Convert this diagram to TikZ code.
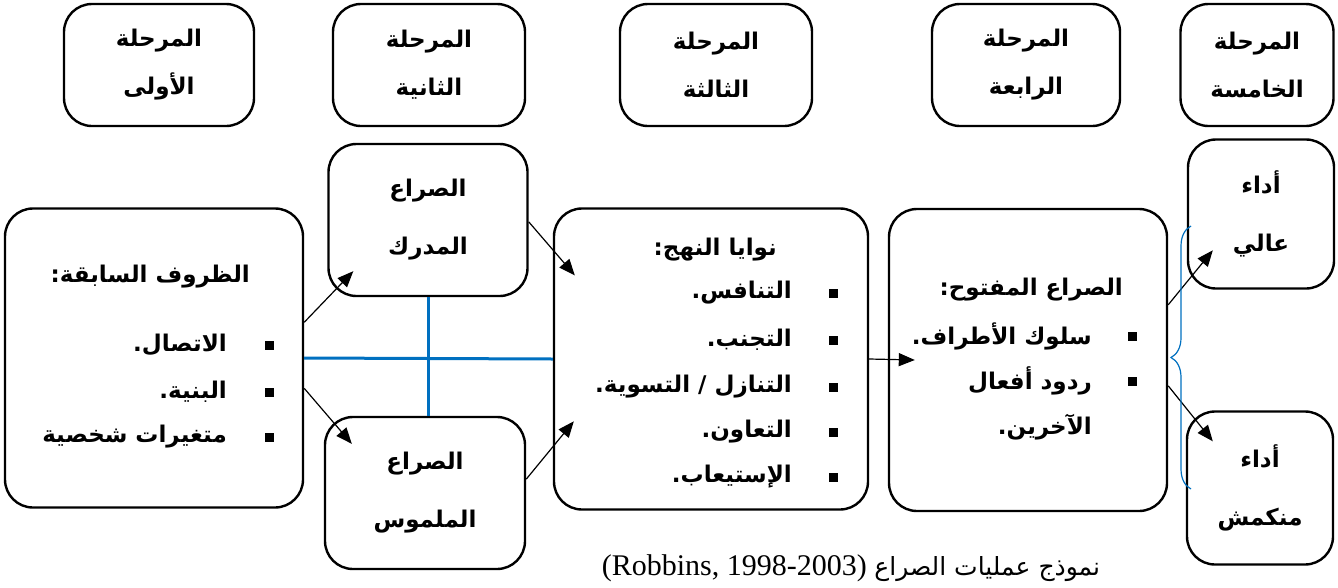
\documentclass[tikz,border=0pt]{standalone}
\usepackage{fontspec}
\setmainfont{Liberation Serif}
\newfontfamily\arabicfont[Script=Arabic]{DejaVu Sans}
\TeXXeTstate=1
\usepackage{tikz}
\usetikzlibrary{positioning, calc, arrows.meta, decorations.pathreplacing}
\definecolor{linkblue}{RGB}{0, 112, 192}
\newcommand{\artxt}[1]{\beginR #1\endR}

\begin{document}
\begin{tikzpicture}[x=1pt, y=-1pt,
    box/.style={draw, line width=2.4pt, rounded corners=28pt, inner sep=0pt, align=center},
    stagebox/.style={box, minimum height=122pt, font=\arabicfont\bfseries\fontsize{23}{48}\selectfont},
    smallbox/.style={box, font=\arabicfont\bfseries\fontsize{23}{58}\selectfont},
    txt/.style={anchor=east, inner sep=0pt, font=\arabicfont\bfseries\fontsize{23}{30}\selectfont},
    bul/.style={fill, minimum size=9pt, inner sep=0pt},
    arr/.style={-{Triangle[length=16pt,width=13pt]}, line width=1.2pt},
    link/.style={linkblue, line width=3pt}]
    \useasboundingbox (0,0) rectangle (1338,587);

    % المراحل
    \node[stagebox, minimum width=190pt] (s1) at (159,65) {\artxt{المرحلة}\\\artxt{الأولى}};
    \node[stagebox, minimum width=192pt] (s2) at (429,65) {\artxt{المرحلة}\\\artxt{الثانية}};
    \node[stagebox, minimum width=192pt] (s3) at (716,65) {\artxt{المرحلة}\\\artxt{الثالثة}};
    \node[stagebox, minimum width=188pt] (s4) at (1026,65) {\artxt{المرحلة}\\\artxt{الرابعة}};
    \node[stagebox, minimum width=153pt] (s5) at (1257,65) {\artxt{المرحلة}\\\artxt{الخامسة}};

    % الصناديق
    \node[box, minimum width=298pt, minimum height=299pt] (ante) at (154,358) {};
    \node[smallbox, minimum width=199pt, minimum height=152pt] (perc) at (428,220) {\artxt{الصراع}\\\artxt{المدرك}};
    \node[smallbox, minimum width=200pt, minimum height=152pt] (felt) at (425,493) {\artxt{الصراع}\\\artxt{الملموس}};
    \node[box, minimum width=314pt, minimum height=301pt] (intent) at (711,359) {};
    \node[box, minimum width=278pt, minimum height=302pt] (open) at (1028,360) {};
    \node[smallbox, minimum width=146pt, minimum height=149pt] (high) at (1261,214) {\artxt{أداء}\\\artxt{عالي}};
    \node[smallbox, minimum width=146pt, minimum height=153pt] (wdr) at (1260,488) {\artxt{أداء}\\\artxt{منكمش}};

    % الظروف السابقة
    \node[txt] (ante-t) at (250,277) {\artxt{الظروف السابقة:}};
    \node[txt] (ante-1) at (227,345) {\artxt{الاتصال.}};
    \node[txt] (ante-2) at (227,392) {\artxt{البنية.}};
    \node[txt] (ante-3) at (227,437) {\artxt{متغيرات شخصية}};
    \node[bul] (ante-b1) at (269,345) {};
    \node[bul] (ante-b2) at (269,392) {};
    \node[bul] (ante-b3) at (269,437) {};

    % نوايا النهج
    \node[txt] (int-t) at (777,250) {\artxt{نوايا النهج:}};
    \node[txt] (int-1) at (792,293) {\artxt{التنافس.}};
    \node[txt] (int-2) at (792,340) {\artxt{التجنب.}};
    \node[txt] (int-3) at (792,387) {\artxt{التنازل / التسوية.}};
    \node[txt] (int-4) at (792,432) {\artxt{التعاون.}};
    \node[txt] (int-5) at (792,477) {\artxt{الإستيعاب.}};
    \node[bul] (int-b1) at (833,293) {};
    \node[bul] (int-b2) at (833,340) {};
    \node[bul] (int-b3) at (833,387) {};
    \node[bul] (int-b4) at (833,432) {};
    \node[bul] (int-b5) at (833,477) {};

    % الصراع المفتوح
    \node[txt] (open-t) at (1123,290) {\artxt{الصراع المفتوح:}};
    \node[txt] (open-1) at (1092,336) {\artxt{سلوك الأطراف.}};
    \node[txt] (open-2) at (1092,381) {\artxt{ردود أفعال}};
    \node[txt] (open-3) at (1092,427) {\artxt{الآخرين.}};
    \node[bul] (open-b1) at (1132,336) {};
    \node[bul] (open-b2) at (1132,381) {};

    % الروابط
    \draw[link] (ante.east) -- (intent.west);
    \draw[link] (perc.south) -- (perc.south |- felt.north);
    \draw[arr] ($(ante.north east)+(0,115)$) -- ($(perc.south west)+(26,-26)$);
    \draw[arr] ($(ante.north east)+(0,181)$) -- ($(felt.north west)+(28,28)$);
    \draw[arr] ($(perc.north east)+(0,79)$) -- ($(intent.north west)+(22,68)$);
    \draw[arr] ($(felt.south east)+(0,-91)$) -- ($(intent.north west)+(21,214)$);
    \draw[arr] (intent.east) -- ($(open.west)+(27,0)$);
    \draw[arr] ($(open.north east)+(0,97)$) -- ($(high.north west)+(26,112)$);
    \draw[arr] ($(open.north east)+(0,178)$) -- ($(wdr.north west)+(27,31)$);
    \draw[linkblue, line width=1.2pt, decorate, decoration={brace, amplitude=20pt}] (1191,489) -- (1191,226);

    \node[font=\fontsize{30}{36}\selectfont] (cap) at (851,568)
        {\hbox{(Robbins, 1998-2003)} {\arabicfont\fontsize{25}{30}\selectfont\beginR نموذج عمليات الصراع\endR}};
\end{tikzpicture}
\end{document}
